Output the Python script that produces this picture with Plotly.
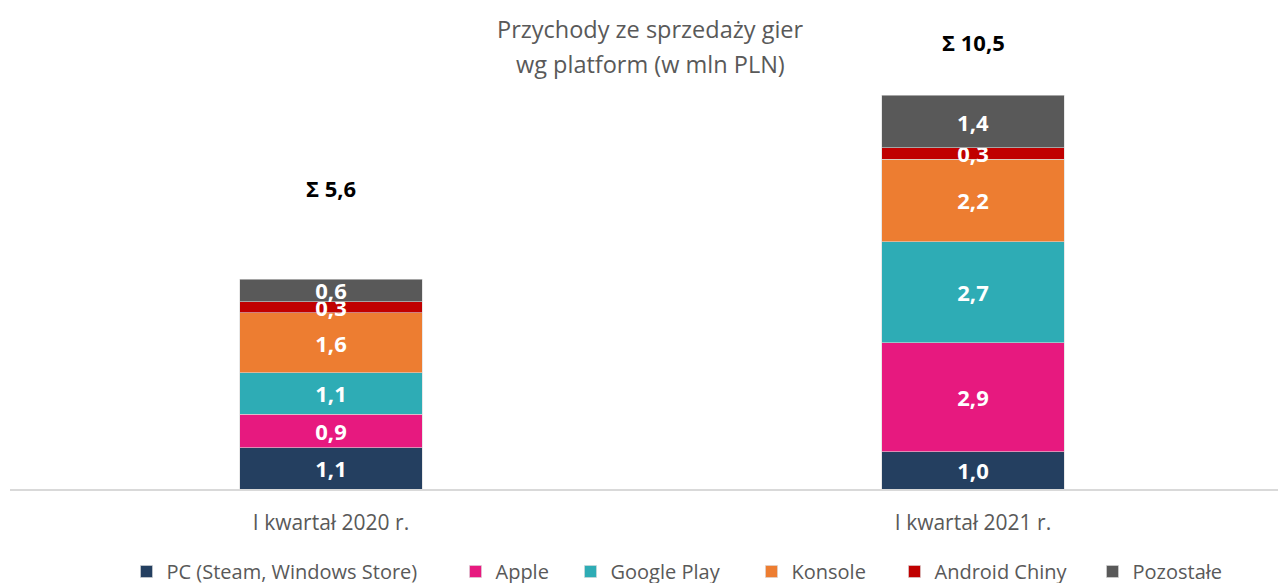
import plotly.graph_objects as go

categories = ["I kwartał 2020 r.", "I kwartał 2021 r."]
series_names = ["PC (Steam, Windows Store)", "Apple", "Google Play", "Konsole", "Android Chiny", "Pozostałe"]
pc = [1.1, 1.0]
apple = [0.9, 2.9]
google_play = [1.1, 2.7]
konsole = [1.6, 2.2]
android_chiny = [0.3, 0.3]
pozostale = [0.6, 1.4]
totals = [5.6, 10.5]
colors = ["#243F60", "#E7197F", "#2EACB5", "#ED7D31", "#C00000", "#595959"]
title_lines = ["Przychody ze sprzedaży gier", "wg platform (w mln PLN)"]
legend_widths = [284, 70, 136, 98, 153, 92]

series_values = [pc, apple, google_play, konsole, android_chiny, pozostale]

W, H = 1286, 583
M_L, M_T, M_B = 2, 12, 100
fig = go.Figure()
for name, vals, col, lw in zip(series_names, series_values, colors, legend_widths):
    fig.add_trace(go.Bar(
        x=[0, 1], y=vals, name=name,
        marker=dict(color=col, line=dict(color="#d9d9d9", width=0.6)),
        width=0.285,
        text=[f"{v:.1f}".replace(".", ",") for v in vals],
        textposition="inside", insidetextanchor="middle",
        constraintext="none", cliponaxis=False,
        textfont=dict(family="Open Sans", size=22, color="white", weight="bold"),
        hoverinfo="skip", legendwidth=lw,
    ))

sum_label_y = [8.03, 11.92]
for i, t in enumerate(totals):
    fig.add_annotation(
        x=i, y=sum_label_y[i], xref="x", yref="y",
        text="Σ " + f"{t:.1f}".replace(".", ","), showarrow=False,
        font=dict(family="Open Sans", size=22, color="black", weight="bold"),
    )

plot_h = H - M_T - M_B
for line, yc in zip(title_lines, [21, 56]):
    fig.add_annotation(
        x=(642 - M_L) / (W - M_L), y=1 - (yc - M_T) / plot_h,
        xref="paper", yref="paper", xanchor="center", yanchor="middle",
        text=line, showarrow=False,
        font=dict(family="Open Sans", size=23.5, color="#595959"),
    )

fig.update_layout(
    barmode="stack",
    width=W, height=H,
    margin=dict(l=M_L, r=0, t=M_T, b=M_B),
    paper_bgcolor="white", plot_bgcolor="white",
    showlegend=True,
    legend=dict(
        orientation="h", x=(670 - M_L) / (W - M_L), xanchor="center", y=-0.135, yanchor="top",
        font=dict(family="Open Sans", size=20, color="#595959"),
        itemwidth=30, traceorder="normal", itemclick=False,
    ),
    xaxis=dict(
        range=[-0.5, 1.5], tickvals=[0, 1], ticktext=categories,
        showgrid=False, zeroline=False, showline=True, linecolor="#d9d9d9", linewidth=2,
        ticks="", tickfont=dict(family="Open Sans", size=21, color="#595959"),
        ticklabelstandoff=14,
        fixedrange=True,
    ),
    yaxis=dict(range=[0, 12.51], visible=False, fixedrange=True),
)

fig.write_html("out.html")
